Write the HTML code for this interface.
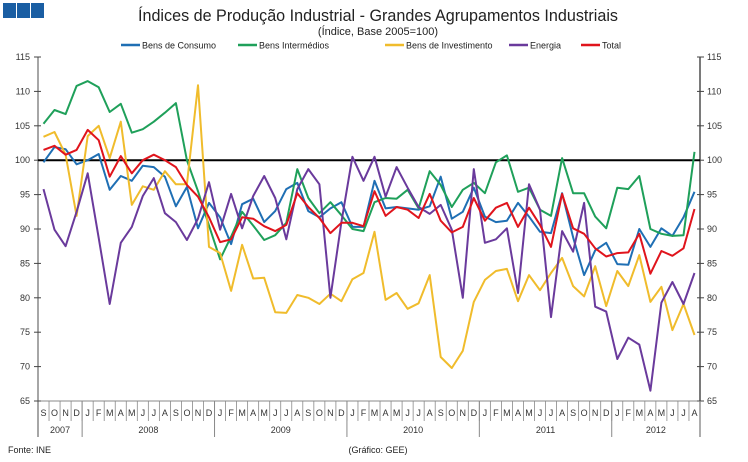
<!DOCTYPE html>
<html><head><meta charset="utf-8"><style>
body{margin:0;background:#fff;width:748px;height:462px;overflow:hidden;font-family:"Liberation Sans",sans-serif}
svg{display:block}
</style></head><body>
<svg id="c" width="748" height="462" viewBox="0 0 748 462" font-family="Liberation Sans, sans-serif">
<g>
<rect x="3" y="3" width="13" height="15" fill="#1a5ea3"/><rect x="17" y="3" width="13" height="15" fill="#1a5ea3"/><rect x="31" y="3" width="13" height="15" fill="#1a5ea3"/>
</g>
<text x="378" y="21" text-anchor="middle" font-size="16.5" fill="#222" textLength="480" lengthAdjust="spacingAndGlyphs">Índices de Produção Industrial - Grandes Agrupamentos Industriais</text>
<text x="378" y="35" text-anchor="middle" font-size="11" fill="#222">(Índice, Base 2005=100)</text>
<g id="legend" font-size="9" fill="#222"></g>
<g id="axes"></g>
<g id="series"></g>
<text x="8" y="453" font-size="9" fill="#222">Fonte: INE</text>
<text x="378" y="453" text-anchor="middle" font-size="9" fill="#222">(Gráfico: GEE)</text>
</svg>
<script>
const months=["S","O","N","D","J","F","M","A","M","J","J","A","S","O","N","D","J","F","M","A","M","J","J","A","S","O","N","D","J","F","M","A","M","J","J","A","S","O","N","D","J","F","M","A","M","J","J","A","S","O","N","D","J","F","M","A","M","J","J","A"];
const years=[["2007",0,4],["2008",4,16],["2009",16,28],["2010",28,40],["2011",40,52],["2012",52,60]];
const yTicks=[65,70,75,80,85,90,95,100,105,110,115];
const seriesNames=["Bens de Consumo","Bens Intermédios","Bens de Investimento","Energia","Total"];
const consumo=[99.7,101.9,101.6,99.4,100,100.9,95.7,97.7,97,99.2,99,97.6,93.3,96.1,90.1,93.8,91.7,87.8,93.6,94.4,91,92.6,95.8,96.7,92.6,91.7,93,93.9,90.3,90.3,97,93,93.2,93,92.8,93.3,97.6,91.5,92.5,96,91.8,91,91.2,93.8,91.8,89.6,89.4,95.2,88.8,83.3,86.9,88,84.9,84.8,90,87.4,90.1,89,91.7,95.4];
const intermedios=[105.3,107.3,106.7,110.8,111.5,110.6,107,108.2,104,104.5,105.6,106.9,108.3,100,95.5,90.5,85.6,88.9,92.5,90.5,88.4,89.1,90.9,98.7,94.5,92.3,93.9,92,90,89.7,93.9,94.5,94.4,95.7,93,98.4,96.4,93.2,95.7,96.7,95.2,99.7,100.7,95.4,96,92.8,91.9,100.3,95.2,95.2,91.8,90.1,96,95.8,97.7,90,89.3,89,89.1,101.2];
const investimento=[103.4,104.1,100.8,91.9,103.5,105,100.3,105.6,93.5,96.2,95.7,98.4,96.5,96.5,110.9,87.4,86.5,81,87.7,82.8,82.9,77.9,77.8,80.4,80,79.1,80.6,79.5,82.7,83.6,89.6,79.7,80.7,78.4,79.2,83.3,71.4,69.8,72.3,79.4,82.6,83.9,84.2,79.5,83.3,81.1,83.6,85.8,81.7,80.2,84.6,78.8,83.9,81.7,86.2,79.4,81.6,75.3,79.1,74.6];
const energia=[95.8,89.9,87.5,92.5,98.1,88.7,79.1,88,90.3,94.8,97.4,92.3,91,88.4,91.5,96.8,89.9,95.1,90.1,94.8,97.7,94.5,88.5,95.8,98.7,96.5,80,91,100.5,97,100.5,94.7,99,96,93.2,92.2,93.5,89.9,80,98.7,88,88.5,90.1,80.7,96.5,92.8,77.2,89.7,86.7,93.8,78.7,78,71.1,74.2,73.2,66.5,79.3,82.3,79.1,83.6];
const total=[101.5,102.1,100.8,101.5,104.4,102.9,97.6,100.6,98.1,100,100.8,100,99,96.4,94.7,91.7,88.1,88.5,91.7,91.5,90.4,89.7,90.6,95.2,93.2,91.6,89.4,90.9,90.9,90.4,95.5,91.9,93.2,92.8,91.6,95.1,91.2,89.5,90.3,94.5,91.2,93.1,93.8,90.3,93.1,90.6,87.4,95.1,90.1,89.3,87.2,86,86.5,86.6,89.3,83.5,86.8,86.1,87.2,92.9];
const colors=["#1f6fb4","#1fa05a","#f0bc2c","#6a3a9c","#e0141c"];
const NS="http://www.w3.org/2000/svg";
const L=38,R=700,T=57,B=401,yMin=65,yMax=115;
const mw=(R-L)/months.length;
function xs(i){return L+mw*(i+0.5);}
function ys(v){return B-(v-yMin)/(yMax-yMin)*(B-T);}
function mk(tag,attrs,parent){const e=document.createElementNS(NS,tag);for(const k in attrs)e.setAttribute(k,attrs[k]);parent.appendChild(e);return e;}
const ax=document.getElementById('axes');
// y axes
mk('line',{x1:L,y1:T,x2:L,y2:437,stroke:'#888','stroke-width':1.5},ax);
mk('line',{x1:R,y1:T,x2:R,y2:437,stroke:'#222','stroke-width':1.2},ax);
mk('line',{x1:L,y1:B,x2:R,y2:B,stroke:'#888','stroke-width':1},ax);
yTicks.forEach(v=>{
 const y=ys(v);
 let t=mk('line',{x1:L-4,y1:y,x2:L+3,y2:y,stroke:'#444'},ax);
 
 t=mk('line',{x1:R-3,y1:y,x2:R+4,y2:y,stroke:'#444'},ax);
 
 let s=mk('text',{x:L-8,y:y+3,'text-anchor':'end','font-size':9,fill:'#333'},ax);s.textContent=v;
 
 s=mk('text',{x:R+7,y:y+3,'font-size':9,fill:'#333'},ax);s.textContent=v;
 
});
// reference line at 100
const ref=mk('line',{x1:L,y1:ys(100),x2:R,y2:ys(100),stroke:'#000','stroke-width':2},ax);


// months
months.forEach((m,i)=>{
 const t=mk('text',{x:xs(i),y:416,'text-anchor':'middle','font-size':9,fill:'#333'},ax);t.textContent=m;
 
 const l=mk('line',{x1:L+mw*(i+1),y1:B,x2:L+mw*(i+1),y2:421,stroke:'#888','stroke-width':0.8},ax);
 
});
years.forEach(([y,a,b])=>{
 const t=mk('text',{x:(L+mw*a+L+mw*b)/2,y:433,'text-anchor':'middle','font-size':9,fill:'#333'},ax);t.textContent=y;
 
 const l=mk('line',{x1:L+mw*b,y1:B,x2:L+mw*b,y2:437,stroke:'#888','stroke-width':1},ax);
 
});
// series
const sg=document.getElementById('series');
[consumo,intermedios,investimento,energia,total].forEach((d,k)=>{
 const p=mk('polyline',{points:d.map((v,i)=>xs(i).toFixed(1)+','+ys(v).toFixed(1)).join(' '),fill:'none',stroke:colors[k],'stroke-width':2,'stroke-linejoin':'round'},sg);
 
 
});
// legend
const lg=document.getElementById('legend');
const lx=[121,238,385,509,581];
seriesNames.forEach((n,k)=>{
 const g=mk('g',{},lg);
 
 
 mk('line',{x1:lx[k],y1:45,x2:lx[k]+19,y2:45,stroke:colors[k],'stroke-width':2.5},g);
 const t=mk('text',{x:lx[k]+21,y:48.5,'font-size':9,fill:'#222'},g);t.textContent=n;
});
</script>
</body></html>
